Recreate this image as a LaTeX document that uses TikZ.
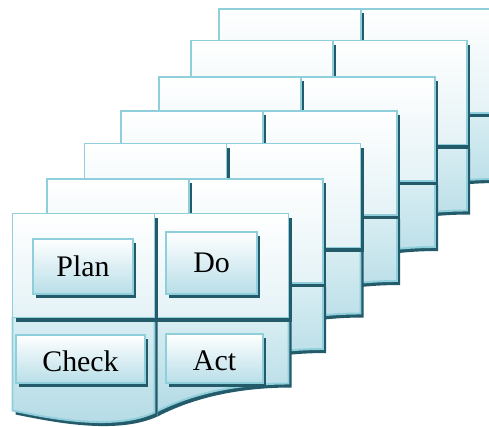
\documentclass[tikz,border=0pt]{standalone}
\usepackage{fontspec}
\setmainfont{Liberation Serif}
\usetikzlibrary{shadows}

\definecolor{pdcaedge}{HTML}{8ECFDB}
\definecolor{pdcadark}{HTML}{245B6A}
\definecolor{pdcahigh}{HTML}{E4F2F6}
\definecolor{pdcalowtop}{HTML}{D8EEF3}
\definecolor{pdcalow}{HTML}{B3DAE5}
\definecolor{pdcabtn}{HTML}{B8DEE8}

\tikzset{
 highcell/.style={draw=pdcaedge, line width=1.1pt, top color=white, bottom color=pdcahigh},
 lowcell/.style={draw=pdcaedge, line width=1.1pt, top color=pdcalowtop, bottom color=pdcalow},
 cardshadow/.style={fill=pdcadark},
 pdcabox/.style={draw=pdcaedge, line width=1.1pt, top color=white, bottom color=pdcabtn,
  inner sep=0, text depth=0pt, font=\fontsize{17}{20}\selectfont,
  drop shadow={shadow xshift=0.06cm, shadow yshift=-0.08cm, fill=pdcadark, opacity=1}}
}

% one cell: its shadow, then the cell
\newcommand\pdcacell[2]{%
 \fill[cardshadow, shift={(3,4)}] #2;
 \draw[#1] #2;}

% one card, top left corner at (#1,#2)
\newcommand\pdcacard[2]{%
 \begin{scope}[shift={(#1,#2)}]
 \pdcacell{lowcell}{(142,104) -- (276,104) -- (276,170) .. controls (210,170) and (167,186) .. (142,199) -- cycle}
 \pdcacell{lowcell}{(0,104) -- (142,104) -- (142,199) .. controls (100,218) and (35,204) .. (0,197) -- cycle}
 \pdcacell{highcell}{(142,0) rectangle (276,104)}
 \pdcacell{highcell}{(0,0) rectangle (142,104)}
 \end{scope}}

\begin{document}
\begin{tikzpicture}[x=0.02cm, y=-0.02cm]
\clip (0,0) rectangle (489,426);
\fill[white] (0,0) rectangle (489,426);
\foreach \cx/\cy in {219/9, 191/40.5, 159/77, 121/111, 84.5/143.5, 47/179, 12.5/213.5}
 \pdcacard{\cx}{\cy};
\node[pdcabox, minimum width=2cm, minimum height=1.1cm] (plan) at (83,266.5) {Plan};
\node[pdcabox, minimum width=1.82cm, minimum height=1.24cm] (do) at (211.5,263) {Do};
\node[pdcabox, minimum width=2.58cm, minimum height=0.96cm, text height=14pt] (check) at (80.5,359) {Check};
\node[pdcabox, minimum width=1.94cm, minimum height=0.98cm, text height=14pt] (act) at (214.5,358.5) {Act};
\end{tikzpicture}
\end{document}
